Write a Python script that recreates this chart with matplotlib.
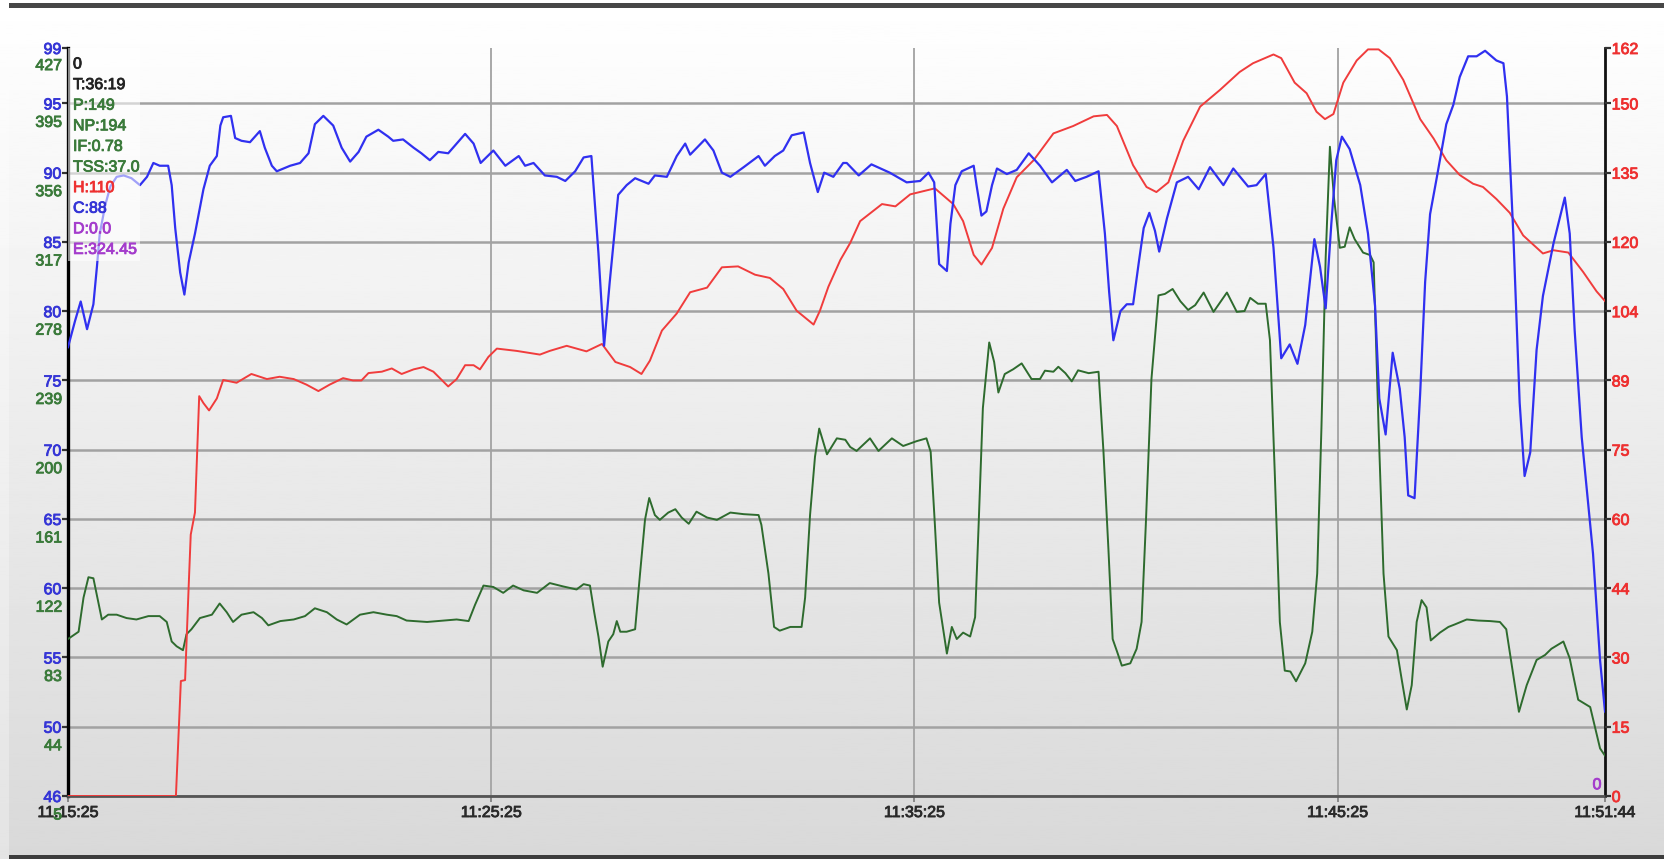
import numpy as np
import matplotlib
matplotlib.use("Agg")
import matplotlib.pyplot as plt
from matplotlib import transforms
from matplotlib import patheffects as pe
from matplotlib.patches import Rectangle

plt.rcParams["font.family"] = ["Liberation Sans", "DejaVu Sans"]

# ---------------- ride data (seconds from 11:15:25) ----------------
cad_t = [0, 10, 18, 27, 36, 41, 45, 53, 60, 69, 79, 90, 102, 112, 121, 130, 142, 147, 152, 159,
         165, 171, 180, 192, 201, 211, 216, 220, 231, 237, 246, 258, 272, 279, 289, 296, 315, 329,
         341, 350, 362, 376, 388, 400, 412, 423, 440, 454, 461, 475, 490, 501, 513, 525, 539, 551,
         563, 575, 585, 603, 620, 639, 648, 660, 676, 693, 705, 719, 731, 742, 752, 760, 768, 780,
         792, 804, 823, 832, 849, 863, 875, 882, 903, 915, 927, 939, 958, 979, 988, 1002, 1014,
         1026, 1043, 1052, 1063, 1072, 1085, 1099, 1104, 1121, 1139, 1165, 1189, 1208, 1220, 1228,
         1235, 1246, 1251, 1258, 1267, 1284, 1288, 1295, 1302, 1310, 1317, 1331, 1345, 1362, 1378,
         1395, 1416, 1428, 1444, 1461, 1470, 1476, 1482, 1492, 1501, 1510, 1518, 1525, 1533, 1541,
         1547, 1558, 1572, 1588, 1603, 1619, 1638, 1652, 1673, 1685, 1698, 1709, 1720, 1732, 1743,
         1754, 1767, 1775, 1783, 1791, 1798, 1806, 1817, 1832, 1843, 1853, 1859, 1868, 1878, 1888,
         1895, 1900, 1909, 1917, 1924, 1931, 1940, 1954, 1964, 1973, 1985, 1997, 2009, 2025, 2035,
         2040, 2049, 2058, 2065, 2073, 2082, 2091, 2106, 2122, 2129, 2136, 2146, 2162, 2172, 2179]
cadence = [77.4, 79.3, 80.7, 78.7, 80.5, 83.2, 85.6, 87.7, 89.0, 89.7, 89.8, 89.6, 89.1, 89.7, 90.7,
           90.5, 90.5, 89.1, 86.0, 82.8, 81.2, 83.5, 85.6, 88.8, 90.5, 91.2, 93.4, 94.0, 94.1, 92.5,
           92.3, 92.2, 93.0, 91.8, 90.5, 90.1, 90.5, 90.7, 91.4, 93.5, 94.1, 93.4, 91.8, 90.8, 91.5,
           92.6, 93.1, 92.6, 92.3, 92.4, 91.8, 91.4, 90.9, 91.5, 91.4, 92.1, 92.8, 92.1, 90.7, 91.6,
           90.5, 91.2, 90.5, 90.7, 89.8, 89.7, 89.4, 90.1, 91.1, 91.2, 84.2, 77.5, 82.1, 88.4, 89.1,
           89.6, 89.2, 89.8, 89.7, 91.2, 92.1, 91.3, 92.4, 91.6, 90.0, 89.7, 90.4, 91.2, 90.5, 91.2,
           91.6, 92.7, 92.9, 90.7, 88.6, 90.0, 89.7, 90.7, 90.7, 89.8, 90.6, 90.0, 89.3, 89.4, 90.0,
           89.3, 83.4, 82.9, 86.3, 89.1, 90.1, 90.5, 89.1, 86.9, 87.2, 89.1, 90.3, 89.9, 90.2, 91.4,
           90.5, 89.3, 90.2, 89.4, 89.7, 90.1, 85.6, 81.4, 77.9, 80.0, 80.5, 80.5, 83.5, 86.0, 87.1,
           85.8, 84.3, 86.7, 89.3, 89.7, 88.8, 90.4, 89.1, 90.3, 89.0, 89.1, 89.9, 84.6, 76.6, 77.6,
           76.2, 79.0, 85.2, 83.2, 80.2, 86.3, 90.9, 92.6, 91.7, 89.1, 85.6, 80.4, 73.7, 71.1, 77.0,
           74.4, 70.9, 66.7, 66.5, 74.1, 82.1, 87.0, 89.5, 93.5, 94.9, 96.9, 98.4, 98.4, 98.8, 98.1,
           97.9, 95.5, 85.6, 73.4, 68.1, 69.8, 77.2, 81.1, 84.9, 88.2, 85.6, 78.6, 70.9, 62.5, 54.8,
           51.1]

hr_t = [0, 153, 160, 166, 171, 174, 180, 186, 192, 200, 211, 220, 239, 260, 282, 300, 320, 338, 355,
        371, 390, 404, 416, 426, 445, 459, 473, 490, 504, 518, 539, 551, 563, 575, 584, 596, 608,
        636, 669, 683, 707, 735, 757, 776, 797, 813, 825, 842, 863, 882, 906, 927, 950, 974, 995,
        1014, 1033, 1057, 1066, 1078, 1095, 1109, 1123, 1154, 1173, 1194, 1229, 1255, 1269, 1284,
        1295, 1310, 1326, 1345, 1369, 1397, 1425, 1454, 1473, 1487, 1510, 1529, 1543, 1560, 1581,
        1605, 1633, 1661, 1680, 1709, 1720, 1739, 1756, 1770, 1782, 1794, 1808, 1827, 1843, 1858,
        1874, 1893, 1917, 1936, 1954, 1973, 1992, 2006, 2025, 2044, 2063, 2091, 2106, 2127, 2148,
        2167, 2179]
heart_rate = [0, 0, 24.9, 25.1, 45.1, 56.6, 61.4, 86.6, 85.1, 83.5, 86.1, 90.1, 89.5, 91.4, 90.3,
              90.8, 90.3, 89.1, 87.7, 89.1, 90.5, 90.0, 90.0, 91.6, 91.9, 92.6, 91.4, 92.4, 92.9,
              91.9, 88.7, 90.3, 93.3, 93.3, 92.4, 95.1, 96.9, 96.4, 95.6, 96.4, 97.5, 96.3, 97.9,
              94.0, 92.9, 91.4, 94.3, 100.8, 104.5, 109.1, 110.1, 114.5, 114.7, 112.9, 112.2,
              109.8, 105.1, 102.1, 105.1, 110.3, 116.1, 119.8, 124.5, 128.2, 127.7, 130.3, 131.6,
              128.2, 124.5, 117.2, 115.1, 118.7, 127.2, 134.0, 137.7, 143.5, 145.1, 147.2, 147.5,
              145.1, 136.6, 131.9, 130.8, 132.9, 141.9, 149.3, 152.9, 156.8, 158.7, 160.6, 159.8,
              154.5, 152.2, 148.2, 146.6, 147.7, 154.5, 159.3, 161.7, 161.7, 159.8, 155.1, 146.6,
              142.4, 137.7, 134.5, 132.6, 131.9, 129.3, 126.3, 121.4, 117.5, 118.2, 117.7, 113.5,
              109.3, 107.2]

pwr_t = [0, 10, 15, 22, 29, 36, 43, 48, 57, 69, 83, 97, 114, 130, 140, 147, 154, 163, 168, 175, 187,
         204, 215, 225, 234, 246, 263, 275, 284, 301, 320, 336, 350, 367, 381, 395, 414, 433, 452,
         466, 480, 509, 532, 551, 568, 577, 589, 603, 617, 631, 646, 665, 683, 702, 721, 731, 740,
         746, 752, 758, 766, 773, 778, 783, 792, 804, 811, 818, 824, 832, 839, 851, 861, 870, 880,
         891, 906, 920, 939, 958, 979, 983, 993, 1001, 1009, 1024, 1040, 1045, 1052, 1059, 1065,
         1076, 1090, 1102, 1109, 1118, 1137, 1149, 1168, 1184, 1203, 1217, 1223, 1229, 1235, 1246,
         1253, 1260, 1269, 1279, 1286, 1291, 1297, 1306, 1313, 1319, 1328, 1340, 1352, 1366, 1378,
         1385, 1397, 1404, 1414, 1423, 1432, 1447, 1461, 1468, 1475, 1481, 1487, 1494, 1506, 1515,
         1522, 1528, 1536, 1546, 1555, 1566, 1577, 1588, 1598, 1610, 1624, 1643, 1657, 1668, 1676,
         1687, 1698, 1704, 1711, 1718, 1725, 1733, 1741, 1754, 1764, 1771, 1777, 1783, 1789, 1795,
         1803, 1810, 1817, 1824, 1836, 1846, 1851, 1858, 1865, 1872, 1884, 1891, 1898, 1905, 1912,
         1919, 1926, 1932, 1945, 1957, 1966, 1983, 1999, 2016, 2030, 2039, 2047, 2057, 2068, 2082,
         2094, 2103, 2120, 2129, 2141, 2158, 2167, 2172, 2179]
power = [93.4, 96.1, 97.5, 116.7, 128.2, 127.6, 113.9, 104.4, 107.1, 107.1, 105.2, 104.4, 106.3,
         106.3, 103.0, 92.0, 89.3, 87.1, 96.1, 98.9, 105.2, 107.1, 113.4, 108.5, 103.0, 107.1, 108.5,
         105.2, 101.1, 103.5, 104.4, 106.3, 110.7, 108.5, 104.4, 101.6, 107.1, 108.5, 107.1, 106.3,
         103.8, 103.0, 103.8, 104.4, 103.5, 112.6, 123.5, 122.7, 119.4, 123.5, 120.8, 119.4, 124.9,
         123.0, 121.3, 124.3, 123.5, 108.5, 94.8, 77.8, 92.0, 96.1, 103.5, 97.5, 97.5, 98.9, 130.3,
         160.5, 172.8, 163.2, 160.5, 164.6, 166.5, 161.8, 158.3, 165.1, 161.8, 160.5, 164.6, 163.7,
         163.2, 157.7, 130.3, 100.2, 98.1, 100.2, 100.2, 116.7, 163.2, 196.0, 211.9, 197.4, 206.4,
         205.6, 201.5, 199.3, 206.4, 199.3, 206.4, 202.1, 204.8, 206.4, 198.8, 157.7, 113.9, 85.2,
         100.2, 93.4, 97.0, 94.8, 105.7, 157.7, 223.4, 260.4, 249.4, 232.2, 242.6, 245.3, 248.6,
         239.8, 239.8, 244.5, 243.9, 246.7, 243.1, 238.5, 244.7, 243.1, 243.9, 198.8, 144.0, 93.4,
         86.6, 78.4, 79.7, 87.9, 103.0, 157.7, 239.8, 286.9, 287.7, 290.5, 283.6, 278.7, 281.4,
         288.5, 277.6, 288.5, 277.6, 278.1, 285.5, 282.2, 282.2, 261.7, 185.1, 103.0, 75.6, 75.1,
         69.6, 79.7, 97.5, 130.3, 212.5, 308.2, 370.6, 341.1, 313.7, 314.3, 325.2, 318.6, 311.0,
         309.6, 305.5, 212.5, 130.3, 94.8, 87.1, 70.1, 53.7, 67.4, 103.0, 115.3, 111.2, 92.6, 97.0,
         100.2, 101.6, 104.4, 103.8, 103.5, 103.0, 98.9, 78.4, 52.4, 67.4, 81.6, 84.4, 87.9, 92.0,
         82.5, 59.2, 55.1, 40.0, 31.8, 27.7]

# ---------------- axis labels ----------------
time_ticks = [0, 600, 1200, 1800, 2179]
time_labels = ["11:15:25", "11:25:25", "11:35:25", "11:45:25", "11:51:44"]
cad_ticks = [45, 50, 55, 60, 65, 70, 75, 80, 85, 90, 95, 99]
cad_labels = ["46", "50", "55", "60", "65", "70", "75", "80", "85", "90", "95", "99"]
pwr_ticks = [5, 44, 83, 122, 161, 200, 239, 278, 317, 356, 395, 427]
pwr_labels = ["5", "44", "83", "122", "161", "200", "239", "278", "317", "356", "395", "427"]
hr_ticks = [0, 15, 30, 45, 60, 75, 90, 105, 120, 135, 150, 162]
hr_labels = ["0", "15", "30", "44", "60", "75", "89", "104", "120", "135", "150", "162"]

stat_lines = ["0", "T:36:19", "P:149", "NP:194", "IF:0.78", "TSS:37.0", "H:110", "C:88", "D:0.0", "E:324.45"]

BLUE, RED, GREEN = "#3030f0", "#f03c3c", "#2e6b2e"
BLUE_TXT, RED_TXT, GREEN_TXT, PURPLE_TXT = "#3535d6", "#ee3030", "#3a7a3a", "#a43ccc"
stat_colors = ["#222222", "#222222", GREEN_TXT, GREEN_TXT, GREEN_TXT, GREEN_TXT,
               RED_TXT, BLUE_TXT, PURPLE_TXT, PURPLE_TXT]
FS = 11.5


def heavy(color):
    """Slight stroke in the glyph colour so small labels read a little bolder."""
    return [pe.withStroke(linewidth=0.6, foreground=color)]


# ---------------- figure & background ----------------
W, H = 1664, 859
fig = plt.figure(figsize=(W / 100, H / 100), dpi=100)

bg = fig.add_axes([0, 0, 1, 1], zorder=-5)
bg.set_axis_off()
grad = np.linspace(1.0, 0.85, 300)[:, None]
bg.imshow(grad, cmap="gray", vmin=0, vmax=1, aspect="auto", extent=[0, 1, 0, 1], origin="upper")
bg.add_patch(Rectangle((9 / W, 1 - 8 / H), 1, 5 / H, color="#474747", lw=0))
bg.add_patch(Rectangle((9 / W, 0), 1, 4 / H, color="#3c3c3c", lw=0))
bg.add_patch(Rectangle((0, 0), 9 / W, 1 - 8 / H, color="white", alpha=0.3, lw=0))
bg.set_xlim(0, 1)
bg.set_ylim(0, 1)

L, R, T, B = 68, 1605, 48, 796
ax = fig.add_axes([L / W, (H - B) / H, (R - L) / W, (B - T) / H], zorder=1)
ax.set_facecolor("none")
ax.set_xlim(0, 2179)
ax.set_ylim(45, 99)

axp = ax.twinx()
axp.set_zorder(2)
axp.set_ylim(5, 426.2)
axp.set_axis_off()

axh = ax.twinx()
axh.set_zorder(3)
axh.set_ylim(0, 162)
for s in axh.spines.values():
    s.set_visible(False)

axc = ax.twinx()
axc.set_zorder(4)
axc.set_ylim(ax.get_ylim())
axc.set_axis_off()

# spines
ax.spines["top"].set_visible(False)
ax.spines["left"].set_linewidth(2.4)
ax.spines["left"].set_color("#000000")
ax.spines["right"].set_linewidth(2.0)
ax.spines["right"].set_color("#111111")
ax.spines["bottom"].set_linewidth(2.0)
ax.spines["bottom"].set_color("#555555")

# cadence ticks (blue) on the left
ax.set_yticks(cad_ticks, labels=cad_labels)
ax.tick_params(axis="y", length=4.3, width=1.6, color="#333333", labelcolor=BLUE_TXT,
               labelsize=FS, pad=0.5)
# time ticks
ax.set_xticks(time_ticks, labels=time_labels)
ax.tick_params(axis="x", length=4, width=1.4, color="#888888", labelcolor="#2a2a2a",
               labelsize=FS, pad=2.5)
for lab in ax.get_yticklabels():
    lab.set_path_effects(heavy(BLUE_TXT))
for lab in ax.get_xticklabels():
    lab.set_path_effects(heavy("#2a2a2a"))

# grid
ax.grid(axis="y", color="#a2a2a2", lw=1.8)
ax.grid(axis="x", color="#a8a8a8", lw=1.4)
ygl = ax.get_ygridlines()
ygl[-1].set_visible(False)
xgl = ax.get_xgridlines()
xgl[0].set_visible(False)
xgl[-1].set_visible(False)

# power labels (green) under the cadence labels
ptrans = transforms.offset_copy(
    transforms.blended_transform_factory(ax.transAxes, axp.transData),
    fig=fig, x=-6, y=-19, units="dots")
for v, lab in zip(pwr_ticks, pwr_labels):
    ax.text(0, v, lab, transform=ptrans, ha="right", va="center", color=GREEN_TXT,
            fontsize=FS, clip_on=False, path_effects=heavy(GREEN_TXT))

# heart rate ticks (red) on the right
axh.set_yticks(hr_ticks, labels=hr_labels)
axh.tick_params(axis="y", left=False, right=True, labelleft=False, labelright=True,
                length=4.3, width=1.6, color="#333333", labelcolor=RED_TXT,
                labelsize=FS, pad=0.5)
axh.tick_params(axis="x", bottom=False, labelbottom=False)
for lab in axh.get_yticklabels():
    lab.set_path_effects(heavy(RED_TXT))

# series
axp.plot(pwr_t, power, color=GREEN, lw=1.4, solid_joinstyle="round")
axh.plot(hr_t, heart_rate, color=RED, lw=1.4, solid_joinstyle="round")
axc.plot(cad_t, cadence, color=BLUE, lw=1.6, solid_joinstyle="round")

# summary panel
axc.add_patch(Rectangle((0, 1 - 213 / (B - T)), 72 / (R - L), 213 / (B - T),
                        transform=axc.transAxes, facecolor="white", alpha=0.55,
                        edgecolor="none", zorder=5))
for i, (s, c) in enumerate(zip(stat_lines, stat_colors)):
    fig.text(73 / W, 1 - (64 + i * 20.6) / H, s, color=c, fontsize=FS, ha="left", va="center",
             zorder=10, path_effects=heavy(c))

ax.text(0.9948, 0.015, "0", transform=ax.transAxes, color=PURPLE_TXT, fontsize=FS,
        ha="center", va="center", path_effects=heavy(PURPLE_TXT))

fig.savefig("out.png", dpi=100)
